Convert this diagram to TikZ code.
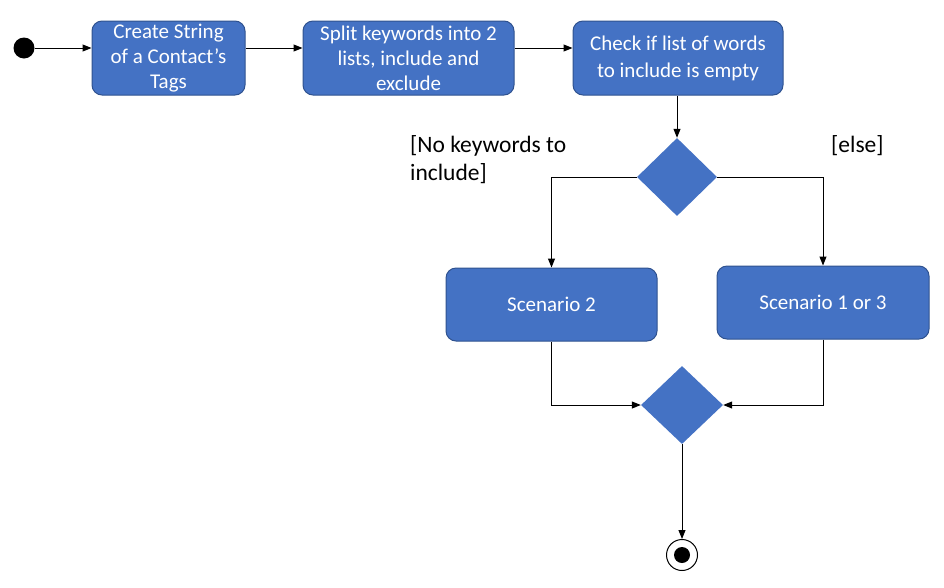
\documentclass[tikz,border=0pt]{standalone}
\usepackage{fontspec}
\setmainfont{Carlito}
\usetikzlibrary{arrows.meta,shapes.geometric}
\definecolor{boxfill}{HTML}{4472C4}
\definecolor{boxline}{HTML}{2F528F}
\tikzset{
  act/.style={draw=boxline,fill=boxfill,line width=1pt,rounded corners=10pt,text=white,align=center,inner sep=0pt,font=\fontsize{21}{25}\selectfont},
  conn/.style={line width=1pt,-{Triangle[length=9pt,width=7pt]}},
  guard/.style={font=\fontsize{23.5}{28}\selectfont,align=left,inner sep=0pt}
}
\begin{document}
\begin{tikzpicture}[x=1pt,y=-1pt]
\useasboundingbox (0,0) rectangle (944,587);
\node[circle,fill=black,minimum size=21pt,inner sep=0pt] (start) at (24,48) {};
\node[act,minimum width=153pt,minimum height=74pt] (b1) at (168.5,58) {Create String\\of a Contact’s\\Tags};
\node[act,minimum width=211pt,minimum height=74pt] (b2) at (408.5,58) {Split keywords into 2\\lists, include and\\exclude};
\node[act,minimum width=210pt,minimum height=74pt,font=\fontsize{21}{27}\selectfont] (b3) at (678,58) {Check if list of words\\to include is empty};
\node[diamond,fill=boxfill,inner sep=0pt,minimum width=80pt,minimum height=78pt] (d1) at (677,177) {};
\node[act,minimum width=211pt,minimum height=73pt] (s2) at (551.5,304.5) {Scenario 2};
\node[act,minimum width=212pt,minimum height=73pt] (s13) at (823,302.5) {Scenario 1 or 3};
\node[diamond,fill=boxfill,inner sep=0pt,minimum width=82pt,minimum height=78pt] (d2) at (682,405) {};
\node[circle,draw=black,line width=1pt,minimum size=31pt,inner sep=0pt] (end) at (682,555) {};
\node[circle,fill=black,minimum size=16pt,inner sep=0pt] at (end.center) {};
\node[guard,anchor=base west] (g1) at (410,152) {[No keywords to};
\node[guard,anchor=base west] (g1b) at (410,180) {include]};
\node[guard,anchor=base west] (g2) at (831,152) {[else]};
\draw[conn] (start) -- (b1.west|-start);
\draw[conn] (b1.east|-start) -- (b2.west|-start);
\draw[conn] (b2.east|-start) -- (b3.west|-start);
\draw[conn] (b3.south-|d1.north) -- (d1.north);
\draw[conn] (d1.west) -| (s2.north);
\draw[conn] (d1.east) -| (s13.north);
\draw[conn] (s2.south) |- (d2.west);
\draw[conn] (s13.south) |- (d2.east);
\draw[conn] (d2.south) -- (end.north);
\end{tikzpicture}
\end{document}
